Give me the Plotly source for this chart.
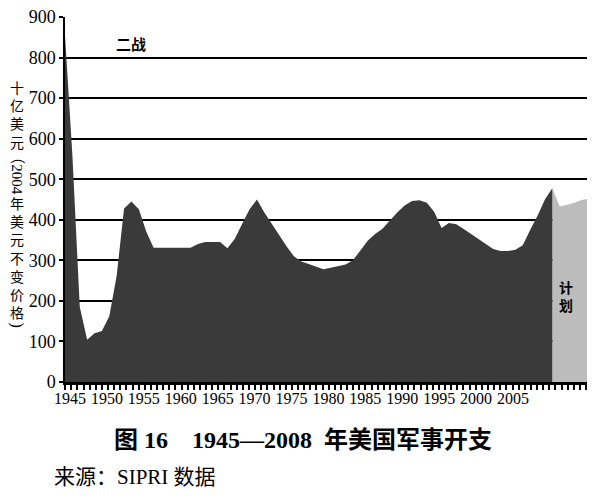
import plotly.graph_objects as go

# ---- data ----
dark_years = list(range(1945, 2012))
dark_values = [
    855, 560, 185, 104, 120, 126, 162, 262, 428, 445,   # 1945-1954
    426, 371, 331, 331, 331, 331, 331, 331, 340, 345,   # 1955-1964
    345, 345, 330, 353, 390, 426, 450, 418, 390, 362,   # 1965-1974
    335, 310, 297, 291, 284, 278, 282, 286, 290, 300,   # 1975-1984
    325, 348, 365, 378, 398, 418, 435, 446, 448, 442,   # 1985-1994
    420, 380, 392, 389, 377, 365, 352, 340, 328, 323,   # 1995-2004
    323, 326, 337, 375, 410, 450, 478,                  # 2005-2011
]
plan_years = [2011, 2012, 2013, 2014, 2015, 2016]
plan_values = [478, 433, 437, 442, 449, 452]

x_tick_vals = [1945, 1950, 1955, 1960, 1965, 1970, 1975, 1980, 1985, 1990, 1995, 2000, 2005]
y_tick_vals = [0, 100, 200, 300, 400, 500, 600, 700, 800, 900]
grid_vals = [100, 200, 300, 400, 500, 600, 700, 800]

SERIF = "Liberation Serif, Noto Sans CJK SC"
CJK = "Noto Sans CJK SC"

fig = go.Figure()
fig.add_trace(go.Scatter(x=plan_years, y=plan_values, fill="tozeroy", mode="lines",
                         line=dict(width=0, color="#bcbcbc"), fillcolor="#bcbcbc",
                         showlegend=False, hoverinfo="skip"))
fig.add_trace(go.Scatter(x=dark_years, y=dark_values, fill="tozeroy", mode="lines",
                         line=dict(width=0, color="#3a3a3a"), fillcolor="#3a3a3a",
                         showlegend=False, hoverinfo="skip"))
# empty trace so the label axis is drawn
fig.add_trace(go.Scatter(x=[], y=[], yaxis="y2", showlegend=False))


def side_text(text, y, angle=0, family=CJK, size=14, x=-0.092):
    return dict(text=text, x=x, y=y, xref="paper", yref="paper", textangle=angle,
                xanchor="center", yanchor="middle", showarrow=False,
                font=dict(family=family, size=size, color="black"))


fig.update_layout(
    width=600, height=500,
    margin=dict(l=57, r=21, t=9, b=126, autoexpand=False),
    paper_bgcolor="white", plot_bgcolor="white",
    xaxis=dict(
        automargin=False,
        range=[1945, 2015.7], tickvals=x_tick_vals, ticks="", showgrid=False,
        zeroline=False, showline=True, linecolor="black", linewidth=3,
        tickfont=dict(family=SERIF, size=16, color="black"),
        ticklabelshift=5, ticklabeloverflow="allow",
        minor=dict(ticks="outside", dtick=0.83, tick0=1945.02, ticklen=5,
                   tickwidth=1.5, tickcolor="black", showgrid=False),
    ),
    yaxis=dict(
        automargin=False,
        range=[0, 900], tickvals=grid_vals, showticklabels=False, ticks="",
        showgrid=True, gridcolor="black", gridwidth=1.6, zeroline=False, showline=False,
    ),
    yaxis2=dict(
        automargin=False,
        range=[0, 900], overlaying="y", side="left", anchor="x",
        tickvals=y_tick_vals, showgrid=False, zeroline=False,
        showline=True, linecolor="black", linewidth=1.5,
        ticks="outside", ticklen=4, tickwidth=1.5, tickcolor="black",
        ticklabeloverflow="allow",
        tickfont=dict(family=SERIF, size=18, color="black"),
    ),
    annotations=[
        dict(text="<b>二战</b>", x=1954.0, y=835, xref="x", yref="y", showarrow=False,
             font=dict(family=CJK, size=15, color="black")),
        dict(text="<b>计<br>划</b>", x=2012.9, y=212, xref="x", yref="y", showarrow=False,
             font=dict(family=CJK, size=14, color="black")),
        side_text("十<br>亿<br>美<br>元", 0.734),
        side_text("（2004", 0.575, angle=90, family=SERIF, size=15),
        side_text("年<br>美<br>元<br>不<br>变<br>价<br>格", 0.341),
        side_text(")", 0.155, angle=90, family="Liberation Serif", size=16),
        dict(text="<b>图 16    1945—2008  年美国军事开支</b>", x=0.455, y=-0.159,
             xref="paper", yref="paper", xanchor="center", yanchor="middle",
             showarrow=False, font=dict(family=SERIF, size=24, color="black")),
        dict(text="来源：SIPRI 数据", x=-0.025, y=-0.26, xref="paper", yref="paper",
             xanchor="left", yanchor="middle", showarrow=False,
             font=dict(family=SERIF, size=21, color="black")),
    ],
)

fig.write_html("out.html")
